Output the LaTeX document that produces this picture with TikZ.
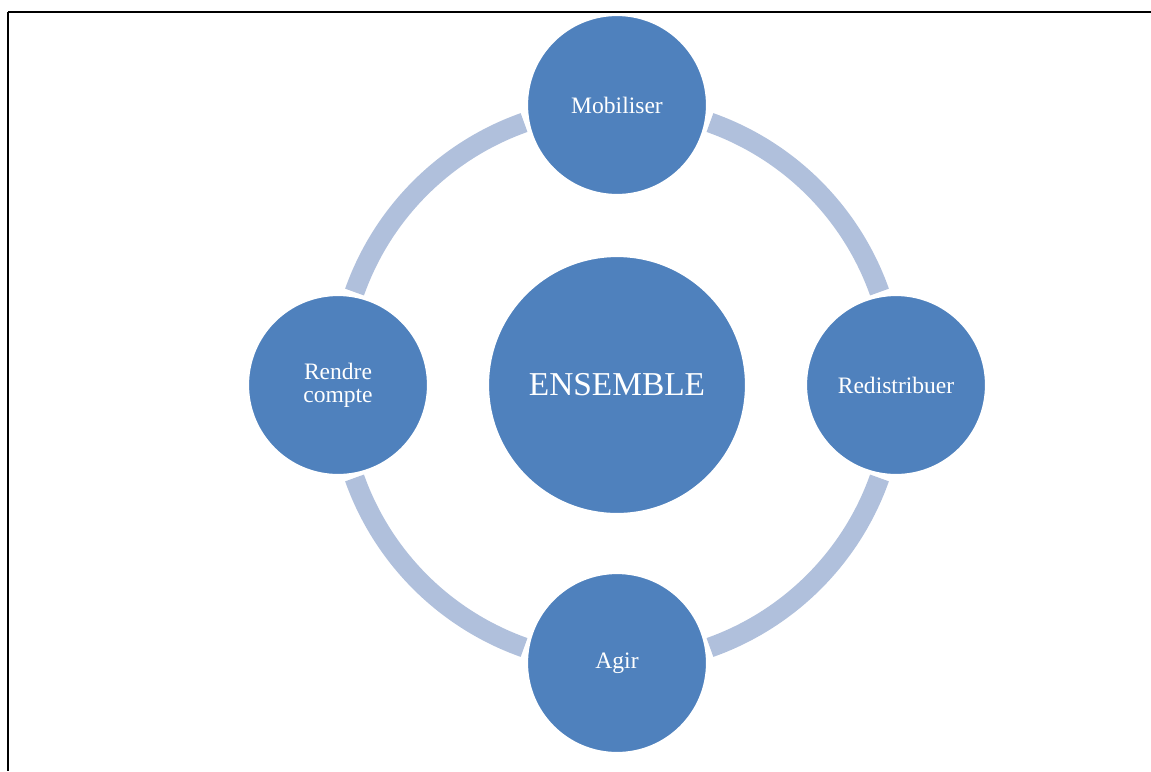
\documentclass[tikz,border=0pt]{standalone}
\usepackage{fontspec}
\setmainfont{Liberation Serif}
\usetikzlibrary{positioning}

\definecolor{circblue}{RGB}{79,129,189}
\definecolor{ringblue}{RGB}{176,192,220}

\begin{document}
\begin{tikzpicture}[
  x=0.02cm, y=-0.02cm,
  hub/.style={circle, fill=circblue, draw=white, line width=1.2pt,
              minimum size=5.16cm, inner sep=0pt, text=white,
              font=\fontsize{19}{22}\selectfont},
  item/.style={circle, fill=circblue, draw=white, line width=1.2pt,
               minimum size=3.6cm, inner sep=0pt, text=white, align=center,
               font=\fontsize{13.4}{13}\selectfont},
  ring/.style={draw=ringblue, line width=0.4cm},
]
\useasboundingbox (0,0) rectangle (1151,771);
\draw[line width=1.6pt] (8,12) -- (1151,12);
\draw[line width=1.6pt] (8,12) -- (8,771);

\node[hub]  (ensemble)     at (617,385) {ENSEMBLE};

% ring pieces between the outer circles
\draw[ring] (ensemble.center) ++(109.5:5.57cm) arc[start angle=109.5, end angle=160.5, radius=5.57cm];
\draw[ring] (ensemble.center) ++(199.5:5.57cm) arc[start angle=199.5, end angle=250.5, radius=5.57cm];
\draw[ring] (ensemble.center) ++(289.5:5.57cm) arc[start angle=289.5, end angle=340.5, radius=5.57cm];
\draw[ring] (ensemble.center) ++(19.5:5.57cm)  arc[start angle=19.5,  end angle=70.5,  radius=5.57cm];

\node[item] (mobiliser)    at (617,105) {Mobiliser};
\node[item] (redistribuer) at (896,385) {Redistribuer};
\node[item] (agir)         at (617,663) {Agir};
\node[item] (rendre)       at (338,385) {Rendre\\compte};
\end{tikzpicture}
\end{document}
